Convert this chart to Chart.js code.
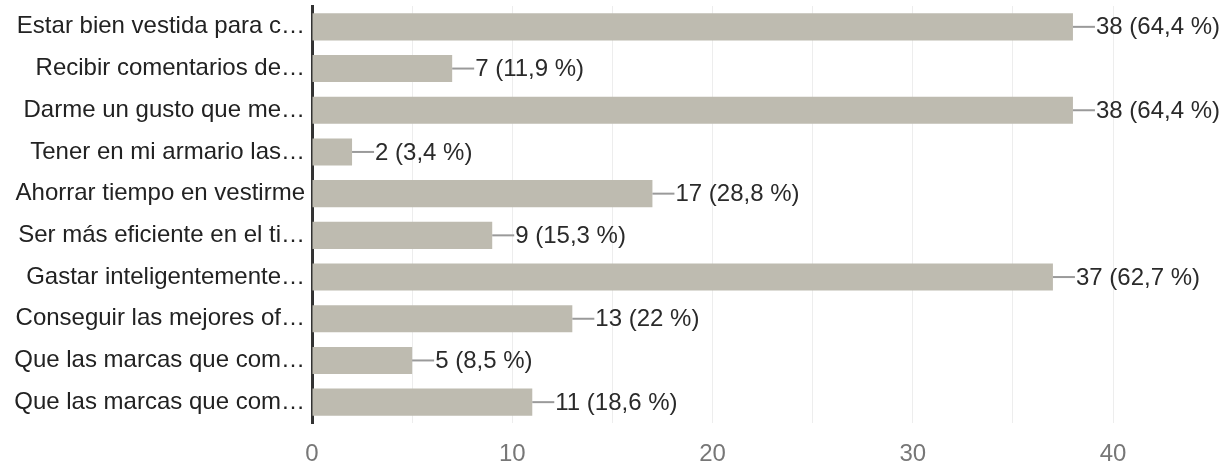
<!DOCTYPE html>
<html>
<head>
<meta charset="utf-8">
<script src="https://cdn.jsdelivr.net/npm/chart.js@4/dist/chart.umd.min.js"></script>
<style>
  html, body { margin: 0; padding: 0; background: #ffffff; }
  #wrap { width: 1231px; height: 464px; position: relative; }
</style>
</head>
<body>
<div id="wrap"><canvas id="c" width="1231" height="464"></canvas></div>
<script>
const categories = [
  "Estar bien vestida para c…",
  "Recibir comentarios de…",
  "Darme un gusto que me…",
  "Tener en mi armario las…",
  "Ahorrar tiempo en vestirme",
  "Ser más eficiente en el ti…",
  "Gastar inteligentemente…",
  "Conseguir las mejores of…",
  "Que las marcas que com…",
  "Que las marcas que com…"
];
const counts = [38, 7, 38, 2, 17, 9, 37, 13, 5, 11];
const percents = ["64,4 %", "11,9 %", "64,4 %", "3,4 %", "28,8 %", "15,3 %", "62,7 %", "22 %", "8,5 %", "18,6 %"];
const xTickLabels = [0, 10, 20, 30, 40];

const FONT = "'Liberation Sans', Arial, sans-serif";
const FSIZE = 24;

const valueLabels = {
  id: 'valueLabels',
  afterDatasetsDraw(chart) {
    const ctx = chart.ctx;
    const meta = chart.getDatasetMeta(0);
    ctx.save();
    meta.data.forEach((bar, i) => {
      const x = bar.x, y = bar.y;
      ctx.strokeStyle = '#9a9a9a';
      ctx.lineWidth = 2;
      ctx.beginPath();
      ctx.moveTo(x, y);
      ctx.lineTo(x + 22, y);
      ctx.stroke();
      ctx.fillStyle = '#2a2a2a';
      ctx.font = FSIZE + "px " + FONT;
      ctx.textAlign = 'left';
      ctx.textBaseline = 'middle';
      ctx.fillText(counts[i] + " (" + percents[i] + ")", x + 23, y + 1);
    });
    ctx.restore();
  }
};

new Chart(document.getElementById('c'), {
  type: 'bar',
  data: {
    labels: categories,
    datasets: [{
      data: counts,
      backgroundColor: '#bebbb0',
      borderWidth: 0,
      barPercentage: 0.65,
      categoryPercentage: 1.0
    }]
  },
  options: {
    indexAxis: 'y',
    responsive: false,
    animation: false,
    layout: { padding: { top: 6, right: 118, left: 0, bottom: 0 } },
    plugins: { legend: { display: false }, tooltip: { enabled: false } },
    scales: {
      x: {
        min: 0, max: 40,
        afterFit(scale) { scale.height = 41; scale.paddingLeft = 0; scale.paddingRight = 0; },
        ticks: {
          stepSize: 5,
          autoSkip: false,
          maxRotation: 0,
          padding: 17,
          color: '#777777',
          font: { family: FONT, size: FSIZE },
          callback(v) { return xTickLabels.includes(v) ? String(v) : ''; }
        },
        grid: { color: '#ededed', lineWidth: 1, drawTicks: false },
        border: { display: false }
      },
      y: {
        afterFit(scale) { scale.width = 312; scale.paddingTop = 0; scale.paddingBottom = 0; },
        ticks: {
          padding: 7,
          autoSkip: false,
          color: '#222222',
          font: { family: FONT, size: FSIZE }
        },
        grid: { display: false, drawTicks: false },
        border: { display: true, color: '#333333', width: 3 }
      }
    }
  },
  plugins: [valueLabels]
});
</script>
</body>
</html>
